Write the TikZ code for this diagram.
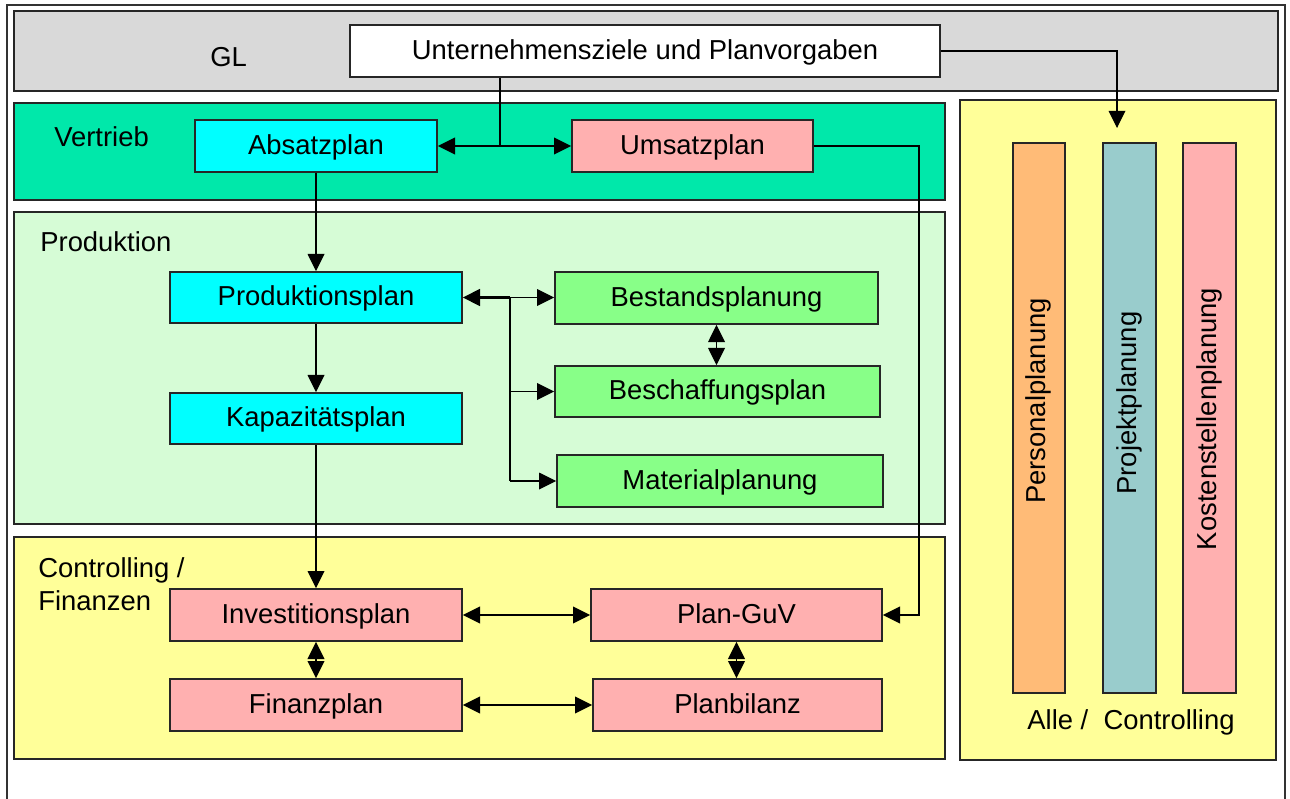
\documentclass[tikz,border=0pt]{standalone}
\usepackage{fontspec}
\setmainfont{Liberation Sans}
\usetikzlibrary{arrows.meta,fit,calc}

\definecolor{glgray}{RGB}{217,217,217}
\definecolor{vertriebgreen}{RGB}{0,232,170}
\definecolor{prodpale}{RGB}{214,252,214}
\definecolor{plancyan}{RGB}{0,255,255}
\definecolor{planpink}{RGB}{255,176,176}
\definecolor{plangreen}{RGB}{136,255,136}
\definecolor{areayellow}{RGB}{255,255,153}
\definecolor{colorange}{RGB}{255,187,119}
\definecolor{colteal}{RGB}{153,204,204}

\tikzset{
  area/.style={draw=black!85, line width=0.9pt, inner sep=0pt},
  txt/.style={inner sep=0pt, text height=1.15em, text depth=0.2em},
  vlabel/.style={inner sep=0pt, text height=0.96em, text depth=0.2em, rotate=90},
  arealabel/.style={anchor=base west, inner sep=0pt},
  conn/.style={line width=0.7pt},
  connmid/.style={line width=1.0pt},
  connbold/.style={line width=1.5pt},
}

\begin{document}
\begin{tikzpicture}[x=0.02cm, y=-0.02cm,
  font=\fontsize{15.6}{18}\selectfont,
  >={Triangle[length=9.8pt,width=9.5pt]}]
\useasboundingbox (0,0) rectangle (1290,798);

% outer frame, open at the bottom
\draw[line width=1.2pt, black!80] (7,800) -- (7,5) -- (1285,5) -- (1285,800);

% management band
\node[area, fill=glgray, fit={(14,11) (1278,91)}] (gl) {};
\node[arealabel] (gltext) at (210,66.5) {GL};
\node[area, fill=white, fit={(350,25) (940,77)}] (ziele) {};
\node[txt] (zieletext) at (ziele) {Unternehmensziele und Planvorgaben};

% department areas
\node[area, fill=vertriebgreen, fit={(14,103) (945,200)}] (vertrieb) {};
\node[arealabel] (vertriebtext) at (54,146.5) {Vertrieb};
\node[area, fill=prodpale, fit={(14,212) (945,524)}] (produktion) {};
\node[arealabel] (produktiontext) at (40,251) {Produktion};
\node[area, fill=areayellow, fit={(14,537) (945,759)}] (controlling) {};
\node[arealabel] (controllingtext) at (38,577) {Controlling /};
\node[arealabel] (finanzentext) at (38,610) {Finanzen};
\node[area, fill=areayellow, fit={(960,100) (1276,760)}] (alle) {};
\node[anchor=base, inner sep=0pt] (alletext) at (1131,729) {Alle /\ \ Controlling};

% sales plans
\node[area, fill=plancyan, fit={(195,120) (437,172)}] (absatz) {};
\node[txt] (absatztext) at (absatz) {Absatzplan};
\node[area, fill=planpink, fit={(572,120) (813,172)}] (umsatz) {};
\node[txt] (umsatztext) at (umsatz) {Umsatzplan};

% production plans
\node[area, fill=plancyan, fit={(170,272) (462,323)}] (prod) {};
\node[txt] (prodtext) at (prod) {Produktionsplan};
\node[area, fill=plancyan, fit={(170,393) (462,444)}] (kap) {};
\node[txt] (kaptext) at (kap) {Kapazitätsplan};
\node[area, fill=plangreen, fit={(555,272) (878,324)}] (bestand) {};
\node[txt] (bestandtext) at (bestand) {Bestandsplanung};
\node[area, fill=plangreen, fit={(555,366) (880,417)}] (besch) {};
\node[txt] (beschtext) at (besch) {Beschaffungsplan};
\node[area, fill=plangreen, fit={(557,455) (883,507)}] (mat) {};
\node[txt] (mattext) at (mat) {Materialplanung};

% finance plans
\node[area, fill=planpink, fit={(170,589) (462,641)}] (invest) {};
\node[txt] (investtext) at (invest) {Investitionsplan};
\node[area, fill=planpink, fit={(591,589) (882,641)}] (guv) {};
\node[txt] (guvtext) at (guv) {Plan-GuV};
\node[area, fill=planpink, fit={(170,679) (462,731)}] (finanz) {};
\node[txt] (finanztext) at (finanz) {Finanzplan};
\node[area, fill=planpink, fit={(593,679) (882,731)}] (bilanz) {};
\node[txt] (bilanztext) at (bilanz) {Planbilanz};

% cross-functional columns
\node[area, fill=colorange, fit={(1013,143) (1065,693)}] (personal) {};
\node[area, fill=colteal, fit={(1103,143) (1156,693)}] (projekt) {};
\node[area, fill=planpink, fit={(1183,143) (1236,693)}] (kosten) {};
\node[vlabel] (personaltext) at (1039,401) {Personalplanung};
\node[vlabel] (projekttext) at (1129.5,403) {Projektplanung};
\node[vlabel] (kostentext) at (1209.5,419) {Kostenstellenplanung};

% routing points
\coordinate (split) at (500,145);
\coordinate (projin) at (1117,128);
\coordinate (umsdown) at (919,400);
\coordinate (j1) at (510,297.5);
\coordinate (j2) at (510,391.5);
\coordinate (j3) at (510,481);

% connectors
\draw[conn] (ziele.south -| split) -- (split);
\draw[connmid, <->] (absatz.east) -- (umsatz.west);
\draw[conn, ->] (ziele.east) -| (projin);
\draw[connmid, ->] (umsatz.east) -| (umsdown) |- (guv.east);

\draw[conn, ->] (absatz) -- (prod);
\draw[conn, ->] (prod) -- (kap);
\draw[conn, ->] (kap) -- (invest);

\draw[connbold, ->] (j1) -- (prod.east |- j1);
\draw[conn, ->] (j1) -- (j1 -| bestand.west);
\draw[connbold] (j1) -- (j2);
\draw[connmid, ->] (j2) -- (j2 -| besch.west);
\draw[conn] (j2) -- (j3);
\draw[conn, ->] (j3) -- (j3 -| mat.west);
\draw[conn, <->] (bestand.south) -- (bestand.south |- besch.north);

\draw[connmid, <->] (invest.east) -- (guv.west |- invest.east);
\draw[connmid, <->] (finanz.east) -- (bilanz.west |- finanz.east);
\draw[connmid, <->] (invest.south) -- (finanz.north);
\draw[connmid, <->] (guv.south) -- (guv.south |- bilanz.north);
\end{tikzpicture}
\end{document}
